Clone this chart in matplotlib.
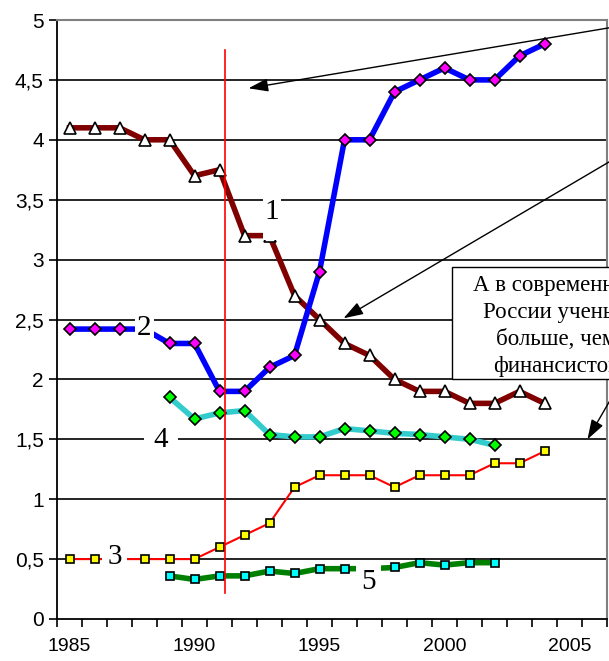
import matplotlib
matplotlib.use('Agg')
import matplotlib.pyplot as plt
from matplotlib import ticker
from matplotlib.patches import Rectangle
import numpy as np

nan = np.nan

# Data
years = list(range(1985, 2005))
series_1 = [4.1, 4.1, 4.1, 4.0, 4.0, 3.7, 3.75, 3.2, 3.2, 2.7,
            2.5, 2.3, 2.2, 2.0, 1.9, 1.9, 1.8, 1.8, 1.9, 1.8]
series_2 = [2.42, 2.42, 2.42, 2.42, 2.3, 2.3, 1.9, 1.9, 2.1, 2.2,
            2.9, 4.0, 4.0, 4.4, 4.5, 4.6, 4.5, 4.5, 4.7, 4.8]
series_3 = [0.5, 0.5, 0.5, 0.5, 0.5, 0.5, 0.6, 0.7, 0.8, 1.1,
            1.2, 1.2, 1.2, 1.1, 1.2, 1.2, 1.2, 1.3, 1.3, 1.4]
series_4 = [nan, nan, nan, nan, 1.85, 1.67, 1.72, 1.74, 1.54, 1.52,
            1.52, 1.59, 1.57, 1.55, 1.54, 1.52, 1.50, 1.45, nan, nan]
series_5 = [nan, nan, nan, nan, 0.36, 0.33, 0.36, 0.36, 0.40, 0.38,
            0.42, 0.42, 0.42, 0.43, 0.47, 0.45, 0.47, 0.47, nan, nan]

# number labels placed on the lines (text, year, value)
line_labels = [('1', 1993.1, 3.40), ('2', 1988.0, 2.43), ('3', 1986.8, 0.52),
               ('4', 1988.65, 1.49), ('5', 1996.95, 0.31)]
label_pads = [0, 1.5, 4, 7, 3.5]

marker_year = 1991.2          # red vertical marker line
marker_span = (0.22, 4.75)

box_text = 'А в современной\nРоссии ученых\nбольше, чем\nфинансистов'

W, H = 609, 661
fig = plt.figure(figsize=(W / 100, H / 100), dpi=100)
ax = fig.add_axes([57 / W, 42 / H, 550 / W, 599 / H])

# horizontal grid
for v in np.arange(0.5, 5.0, 0.5):
    ax.axhline(v, color='black', lw=1.2, zorder=1)

ax.plot(years, series_1, color='#800000', lw=4, marker='^', ms=8.5,
        mfc='white', mec='black', mew=1.2, zorder=3)
ax.plot(years, series_2, color='#0000FF', lw=4, marker='D', ms=6,
        mfc='#FF00FF', mec='black', mew=1.2, zorder=3)
ax.plot(years, series_3, color='#FF0000', lw=1.5, marker='s', ms=5.5,
        mfc='#FFFF00', mec='black', mew=1.2, zorder=3)
ax.plot(years, series_4, color='#33CCCC', lw=4, marker='D', ms=6,
        mfc='#00FF00', mec='black', mew=1.2, zorder=3)
ax.plot(years, series_5, color='#008000', lw=4, marker='s', ms=6,
        mfc='#00FFFF', mec='black', mew=1.2, zorder=3)

ax.plot([marker_year, marker_year], marker_span, color='red', lw=1.2, zorder=6)

# white patch behind label "1" (taller than the text itself)
ax.add_patch(Rectangle((1992.72, 3.165), 0.72, 0.355, facecolor='white',
                       edgecolor='none', zorder=4))
for (txt, x, y), pad in zip(line_labels, label_pads):
    bbox = dict(facecolor='white', edgecolor='none', pad=pad) if pad else None
    ax.text(x, y, txt, ha='center', va='center', fontsize=21,
            family='Liberation Serif', zorder=5, bbox=bbox)

ax.set_xlim(1984.5, 2006.5)
ax.set_ylim(0, 5)

ax.set_xticks([1985, 1990, 1995, 2000, 2005])
ax.set_xticks(np.arange(1984.5, 2007, 1.0), minor=True)
ax.set_yticks(np.arange(0, 5.01, 0.5))
ax.yaxis.set_major_formatter(ticker.FuncFormatter(lambda v, p: f'{v:g}'.replace('.', ',')))

ax.tick_params(axis='x', which='major', length=0, pad=14, labelsize=14)
ax.tick_params(axis='x', which='minor', length=6, width=1.2, direction='out')
ax.tick_params(axis='y', length=6, width=1.2, direction='out', pad=3.5, labelsize=15)
for lab in ax.get_xticklabels() + ax.get_yticklabels():
    lab.set_family('Liberation Sans')

for side in ('top', 'right'):
    ax.spines[side].set_color('#808080')
    ax.spines[side].set_linewidth(1.5)
for side in ('left', 'bottom'):
    ax.spines[side].set_color('black')
    ax.spines[side].set_linewidth(1.3)

# callout arrows
arrow_kw = dict(arrowstyle='-|>,head_length=0.6,head_width=0.2', color='black',
                lw=1.0, mutation_scale=20, shrinkA=0, shrinkB=0)
ax.annotate('', xy=(1992.16, 4.43), xycoords='data',
            xytext=(620 / W, 1 - 26 / H), textcoords='figure fraction',
            arrowprops=arrow_kw, annotation_clip=False)
ax.annotate('', xy=(1995.96, 2.51), xycoords='data',
            xytext=(620 / W, 1 - 155.5 / H), textcoords='figure fraction',
            arrowprops=arrow_kw, annotation_clip=False)
ax.annotate('', xy=(2005.72, 1.50), xycoords='data',
            xytext=(612 / W, 1 - 397 / H), textcoords='figure fraction',
            arrowprops=arrow_kw, annotation_clip=False)

# text box (runs past the right edge, as in the original)
fig.add_artist(Rectangle((452 / W, (H - 379) / H), 220 / W, 112 / H,
                         transform=fig.transFigure, facecolor='white',
                         edgecolor='black', lw=1.0, zorder=4))
fig.text(556 / W, (H - 326) / H, box_text, ha='center', va='center',
         multialignment='center', fontsize=16.5, family='Liberation Serif',
         linespacing=1.37, zorder=5)

fig.savefig('out.png', dpi=100)
